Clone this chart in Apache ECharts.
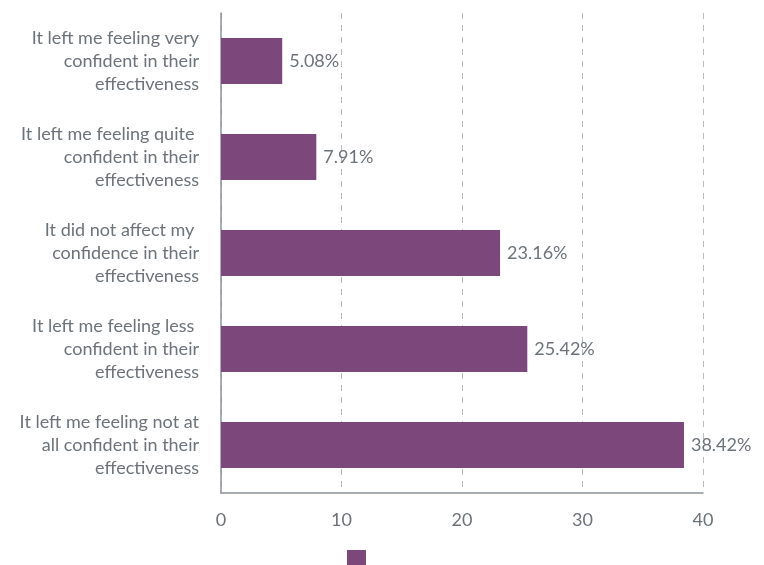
<!DOCTYPE html>
<html>
<head>
<meta charset="utf-8">
<script src="https://cdn.jsdelivr.net/npm/echarts@6/dist/echarts.min.js"></script>
<style>html,body{margin:0;padding:0;background:#fff}#c{width:764px;height:565px}</style>
</head>
<body>
<div id="c"></div>
<script>
const categories = [
  "It left me feeling very\nconfident in their\neffectiveness",
  "It left me feeling quite \nconfident in their\neffectiveness",
  "It did not affect my \nconfidence in their\neffectiveness",
  "It left me feeling less \nconfident in their\neffectiveness",
  "It left me feeling not at\nall confident in their\neffectiveness"
];
const values = [5.08, 7.91, 23.16, 25.42, 38.42];
const xTicks = { min: 0, max: 40, interval: 10 };

const chart = echarts.init(document.getElementById('c'));
const textColor = '#6d737a';
chart.setOption({
  animation: false,
  textStyle: { fontFamily: 'Lato' },
  grid: { left: 221, right: 61, top: 13, bottom: 72, containLabel: false },
  legend: {
    data: [{ name: ' ' }],
    left: 342, top: 545,
    icon: 'rect', itemWidth: 19, itemHeight: 19,
    textStyle: { fontSize: 1 }
  },
  xAxis: {
    type: 'value', min: xTicks.min, max: xTicks.max, interval: xTicks.interval,
    axisLine: { show: true, lineStyle: { color: '#8c9298', width: 1.5 } },
    axisTick: { show: false },
    axisLabel: { color: textColor, fontSize: 18, margin: 18, fontFamily: 'Lato' },
    splitLine: { show: true, lineStyle: { type: [6, 6], color: '#b8bcc0', width: 1 } }
  },
  yAxis: {
    type: 'category', data: categories, inverse: true,
    axisLine: { show: true, lineStyle: { color: '#8c9298', width: 1.5 } },
    axisTick: { show: false },
    axisLabel: { color: textColor, fontSize: 18, lineHeight: 23, margin: 22, align: 'right', fontFamily: 'Lato' }
  },
  series: [{
    name: ' ', type: 'bar', data: values, barWidth: 46,
    itemStyle: { color: '#7c477b' },
    label: {
      show: true, position: 'right', distance: 7,
      formatter: p => p.value.toFixed(2) + '%',
      color: textColor, fontSize: 18, fontFamily: 'Lato'
    }
  }]
});
</script>
</body>
</html>
